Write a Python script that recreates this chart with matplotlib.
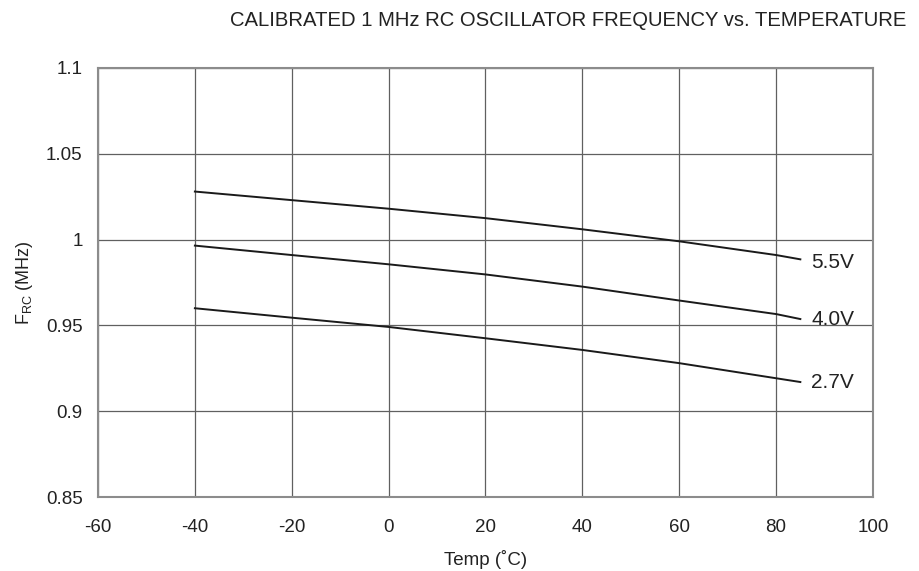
import numpy as np
import matplotlib
matplotlib.use('Agg')
import matplotlib.pyplot as plt

plt.rcParams['font.family'] = ['Liberation Sans', 'DejaVu Sans']
plt.rcParams['mathtext.default'] = 'regular'
plt.rcParams['axes.unicode_minus'] = False

# temperatures (C) and calibrated RC oscillator frequency (MHz) per supply voltage
temps = [-40, -20, 0, 20, 40, 60, 80, 85]
freq_55v = [1.028, 1.023, 1.018, 1.0125, 1.006, 0.999, 0.991, 0.9885]
freq_40v = [0.9965, 0.991, 0.9856, 0.9797, 0.9726, 0.9645, 0.9566, 0.9537]
freq_27v = [0.960, 0.9545, 0.9491, 0.9425, 0.9357, 0.928, 0.9192, 0.917]
series = [('5.5V', freq_55v, -0.002), ('4.0V', freq_40v, 0.0), ('2.7V', freq_27v, 0.0)]

x_ticks = [-60, -40, -20, 0, 20, 40, 60, 80, 100]
y_ticks = [0.85, 0.9, 0.95, 1.0, 1.05, 1.1]
y_tick_labels = ['0.85', '0.9', '0.95', '1', '1.05', '1.1']

fig = plt.figure(figsize=(9.2, 5.71), dpi=100)
ax = fig.add_axes([98 / 920, 1 - 497 / 571, 775 / 920, 429 / 571])

for label, vals, dy in series:
    ax.plot(temps, vals, color='#1a1a1a', lw=1.4)
    # label sits just right of the curve end
    ax.text(temps[-1] + 2.2, vals[-1] + dy, label, fontsize=15, va='center', ha='left',
            color='#222222')

ax.set_xlim(-60, 100)
ax.set_ylim(0.85, 1.1)
ax.set_xticks(x_ticks)
ax.set_yticks(y_ticks)
ax.set_yticklabels(y_tick_labels)
ax.tick_params(length=0, labelsize=13.5, labelcolor='#222222')
ax.tick_params(axis='y', pad=11)
ax.tick_params(axis='x', pad=16)
ax.grid(True, color='#606060', lw=0.9)
ax.set_axisbelow(True)
for sp in ax.spines.values():
    sp.set_color('#8c8c8c')
    sp.set_linewidth(1.5)

ax.set_xlabel('Temp (˚C)', fontsize=13.5, labelpad=10, color='#222222')
ax.set_ylabel('F$_{RC}$ (MHz)', fontsize=13, labelpad=8, color='#222222')

fig.text(568 / 920, 1 - 21 / 571, 'CALIBRATED 1 MHz RC OSCILLATOR FREQUENCY vs. TEMPERATURE',
         fontsize=14.6, ha='center', va='center', color='#222222')

fig.savefig('out.png', dpi=100)
